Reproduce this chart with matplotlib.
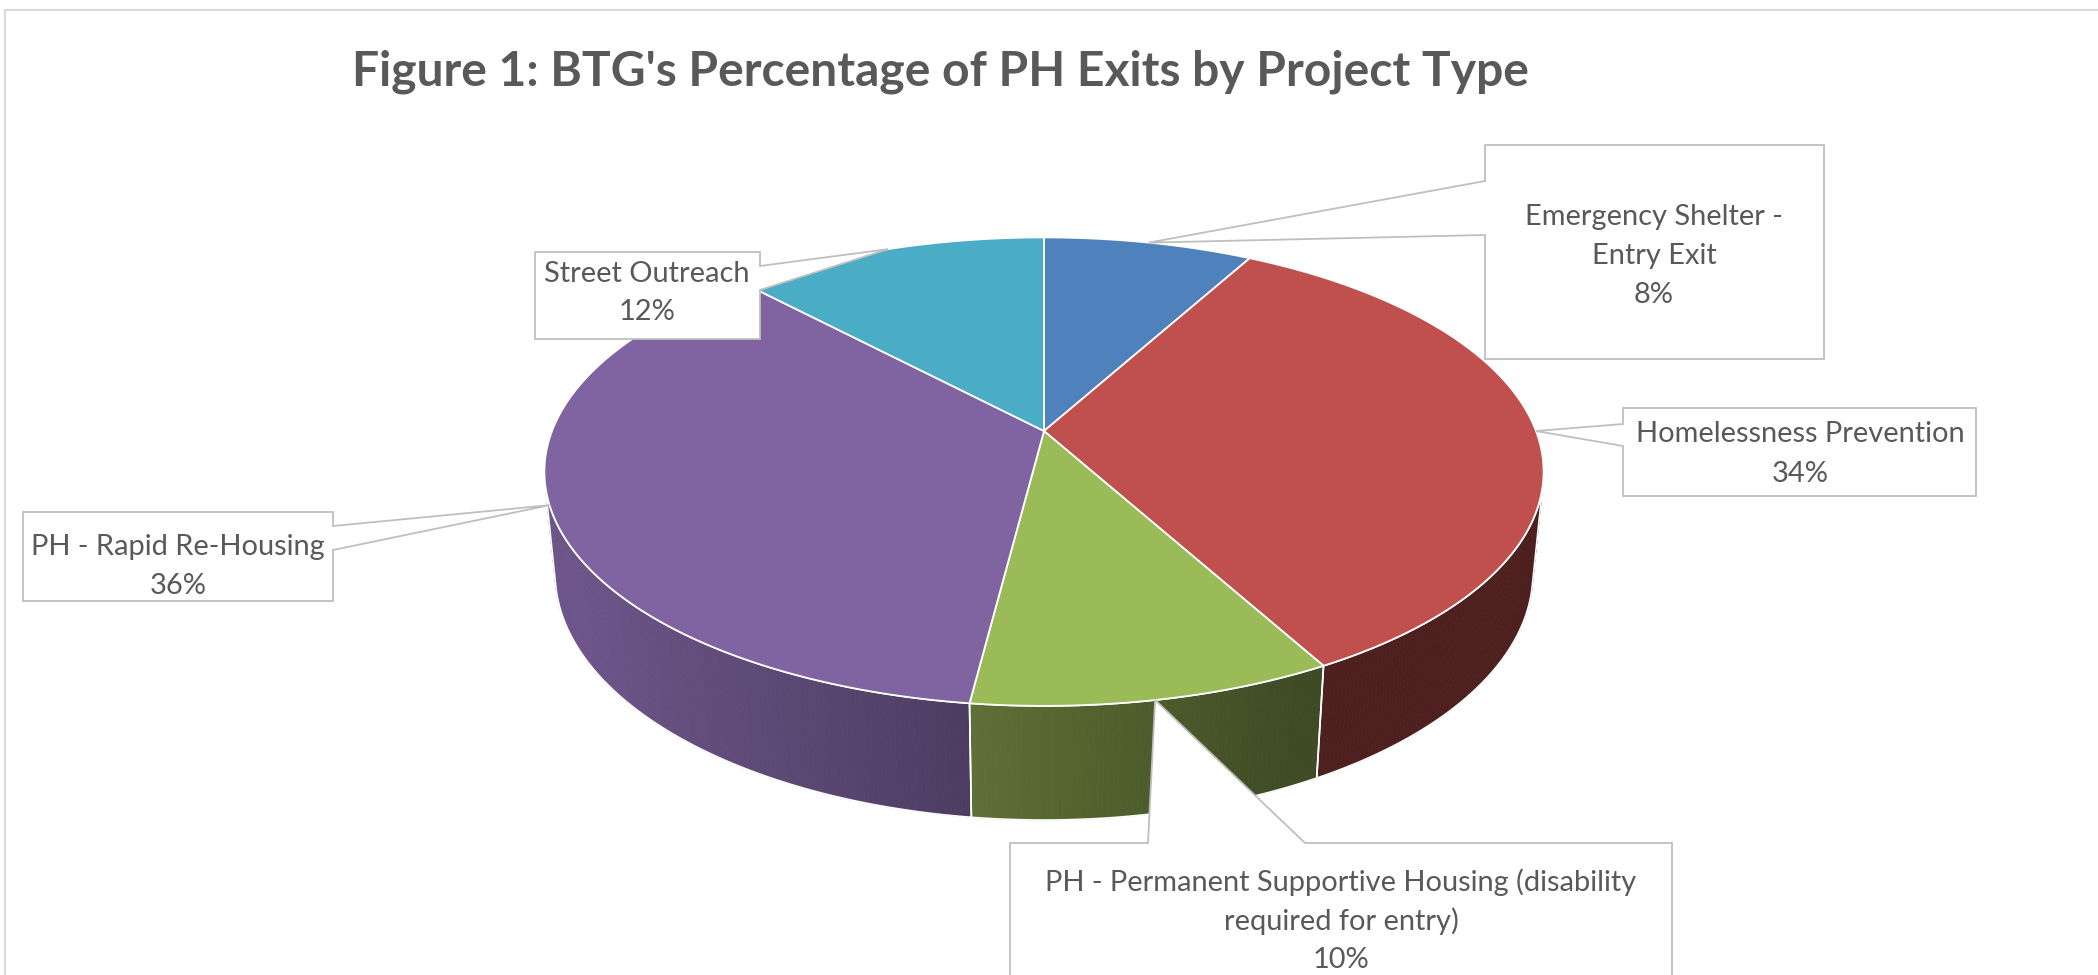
import numpy as np
import matplotlib
matplotlib.use("Agg")
import matplotlib.pyplot as plt
from matplotlib.patches import Polygon
from matplotlib.colors import to_rgb

# data
categories = ["Emergency Shelter -\nEntry Exit",
              "Homelessness Prevention",
              "PH - Permanent Supportive Housing (disability\nrequired for entry)",
              "PH - Rapid Re-Housing",
              "Street Outreach"]
shares = [8, 34, 10, 36, 12]
colors = ["#4f81bd", "#c0504d", "#9bbb59", "#8064a2", "#4bacc6"]
title = "Figure 1: BTG's Percentage of PH Exits by Project Type"

W, H = 2098, 975
TXT = "#595959"
FONT = "Lato"

# simple perspective camera for the 3d pie (pixel space)
CX, CY = 1044, 431
K = 492
D = 5.11
ALPHA = np.radians(27.5)
DEPTH = 0.235


def project(phi, z=0.0):
    phi = np.asarray(phi, dtype=float)
    x = np.cos(phi)
    y = np.sin(phi)
    v = y * np.sin(ALPHA) + z * np.cos(ALPHA)
    d = y * np.cos(ALPHA) - z * np.sin(ALPHA)
    s = D / (D + d)
    return CX + K * x * s, CY - K * v * s


def shade(col, f):
    r, g, b = to_rgb(col)
    return (r * f, g * f, b * f)


fig = plt.figure(figsize=(W / 100, H / 100), dpi=100)
ax = fig.add_axes([0, 0, 1, 1])
ax.set_xlim(0, W)
ax.set_ylim(H, 0)
ax.axis("off")

# chart border
ax.plot([5, 5], [H, 10], color="#d9d9d9", lw=1.5, zorder=0)
ax.plot([5, W], [10, 10], color="#d9d9d9", lw=1.5, zorder=0)

total = sum(shares)
cum = np.concatenate([[0], np.cumsum(shares)]) / total
starts = np.pi / 2 - 2 * np.pi * cum[:-1]
ends = np.pi / 2 - 2 * np.pi * cum[1:]

# visible part of the outer wall
lim = np.arcsin(1.0 / (D * np.cos(ALPHA)))
vis_lo, vis_hi = -np.pi + lim, -lim

for a0, a1, col in zip(starts, ends, colors):
    lo, hi = max(min(a0, a1), vis_lo), min(max(a0, a1), vis_hi)
    if hi <= lo:
        continue
    n = max(int(np.degrees(hi - lo) * 2), 2)
    edges = np.linspace(lo, hi, n + 1)
    for p0, p1 in zip(edges[:-1], edges[1:]):
        ph = np.linspace(p0, p1, 3)
        tx, ty = project(ph, 0)
        bx, by = project(ph[::-1], -DEPTH)
        xm = tx.mean()
        f = np.clip(0.86 - (xm - 546) * 0.46 / 754, 0.40, 0.86)
        c = shade(col, f)
        ax.add_patch(Polygon(np.column_stack([np.r_[tx, bx], np.r_[ty, by]]),
                             closed=True, fc=c, ec=c, lw=0.6, zorder=1))
    ph = np.linspace(lo, hi, 200)
    tx, ty = project(ph, 0)
    bx, by = project(ph[::-1], -DEPTH)
    ax.add_patch(Polygon(np.column_stack([np.r_[tx, bx], np.r_[ty, by]]),
                         closed=True, fc="none", ec="white", lw=1.2, zorder=1.5))

# top faces
for a0, a1, col in zip(starts, ends, colors):
    ph = np.linspace(a0, a1, 300)
    px, py = project(ph, 0)
    pts = np.column_stack([np.r_[CX, px], np.r_[CY, py]])
    ax.add_patch(Polygon(pts, closed=True, fc=col, ec="white", lw=1.3,
                         joinstyle="round", zorder=2))

renderer = fig.canvas.get_renderer()


def fit_size(text, target_px, **kw):
    t = ax.text(0, 0, text, fontsize=20, **kw)
    w = t.get_window_extent(renderer=renderer).width
    t.remove()
    return 20 * target_px / w


lab_fs = fit_size("Homelessness Prevention", 329, family=FONT)
title_fs = fit_size(title, 1179, family=FONT, weight="bold")

ax.text(940, 86, title, fontsize=title_fs, family=FONT, weight="bold",
        color=TXT, ha="center", va="baseline")

# callout boxes: (left, top, right, bottom), side the wedge leaves from,
# wedge anchor offsets along that side, text centre
boxes = [
    ((1485, 145, 1824, 359), "left", (181, 235), (1654, 256)),
    ((1623, 408, 1976, 496), "left", (424, 446), (1800, 454)),
    ((1010, 843, 1672, 1010), "top", (1148, 1305), (1341, 921)),
    ((23, 512, 333, 601), "right", (526, 550), (178, 567)),
    ((535, 252, 760, 339), "right", (266, 290), (647, 293)),
]

mids = (starts + ends) / 2
tipx, tipy = project(mids, 0)
PITCH = 39

for i, (box, side, (w0, w1), (tcx, tcy)) in enumerate(boxes):
    l, t, r, b = box
    tip = (tipx[i], tipy[i])
    if side == "left":
        pts = [(l, t), (r, t), (r, b), (l, b), (l, w1), tip, (l, w0)]
    elif side == "right":
        pts = [(l, t), (r, t), (r, w0), tip, (r, w1), (r, b), (l, b)]
    else:
        pts = [(l, t), (w0, t), tip, (w1, t), (r, t), (r, b), (l, b)]
    ax.add_patch(Polygon(pts, closed=True, fc="white", ec="#bfbfbf", lw=1.3,
                         joinstyle="miter", zorder=5))
    lines = categories[i].split("\n") + [f"{shares[i]}%"]
    n = len(lines)
    for j, line in enumerate(lines):
        y = tcy + (j - (n - 1) / 2) * PITCH
        ax.text(tcx, y, line, fontsize=lab_fs, family=FONT, color=TXT,
                ha="center", va="center", zorder=6)

fig.savefig("out.png", dpi=100, facecolor="white")
